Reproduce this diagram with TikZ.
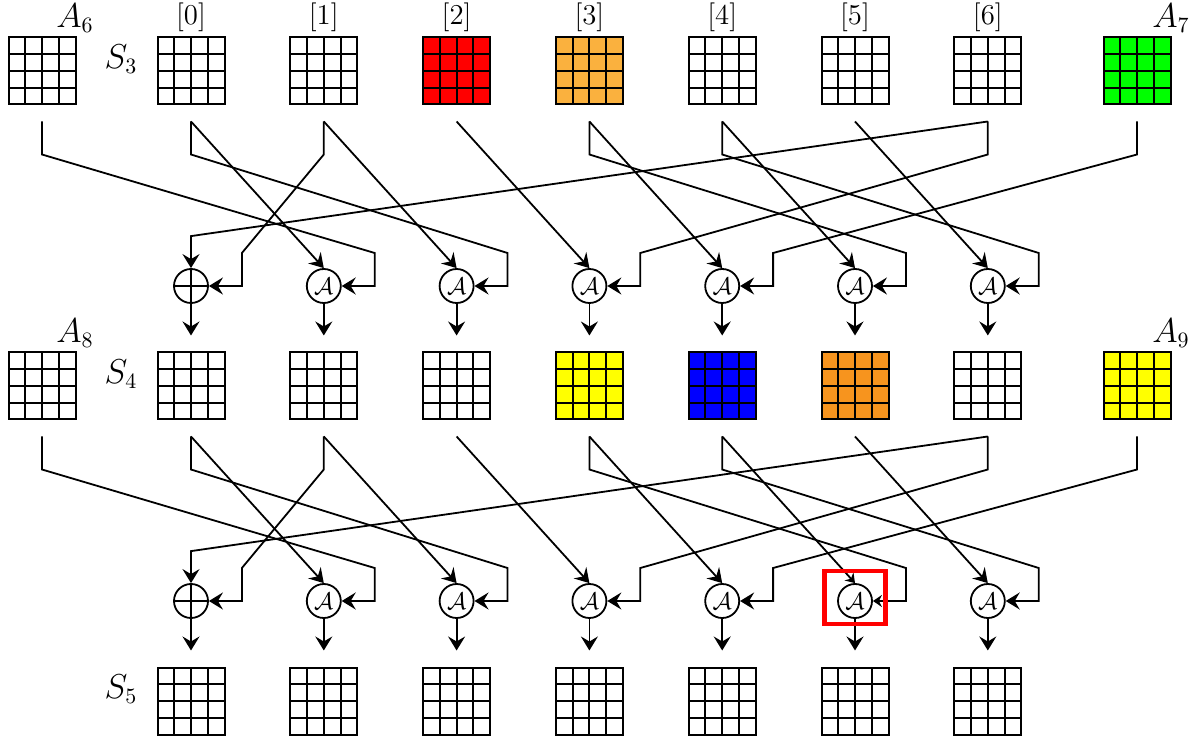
\documentclass[tikz,border=0pt]{standalone}
\usetikzlibrary{arrows.meta,calc}
\definecolor{stred}{RGB}{255,0,0}
\definecolor{storA}{RGB}{250,177,62}
\definecolor{storB}{RGB}{247,148,30}
\definecolor{stgreen}{RGB}{0,255,0}
\definecolor{styellow}{RGB}{255,255,0}
\definecolor{stblue}{RGB}{0,0,255}
\begin{document}
\begin{tikzpicture}[x=0.5pt,y=-0.5pt,
  state/.style={draw, line width=1pt, fill=white, minimum width=33.5pt, minimum height=33.5pt,
    inner sep=0pt, outer sep=0pt,
    path picture={
      \foreach \k in {1,2,3}{
        \draw[line width=1pt]
          ($(path picture bounding box.north west)!\k/4!(path picture bounding box.north east)$) --
          ($(path picture bounding box.south west)!\k/4!(path picture bounding box.south east)$)
          ($(path picture bounding box.north west)!\k/4!(path picture bounding box.south west)$) --
          ($(path picture bounding box.north east)!\k/4!(path picture bounding box.south east)$);
      }}},
  op/.style={circle, draw, line width=0.9pt, minimum size=17pt, inner sep=0pt,
    font=\fontsize{12}{14}\selectfont},
  arr/.style={line width=0.9pt, -{Stealth[length=7pt,width=8.5pt,inset=2.5pt]}},
  small tip/.style={-{Stealth[length=4.5pt,width=6pt,inset=1.5pt]}},
  hl1-5/.style={small tip},
  lab/.style={font=\fontsize{14.4}{17}\selectfont, inner sep=0pt},
  mlab/.style={font=\fontsize{16}{19}\selectfont, inner sep=0pt}]
\useasboundingbox (0,0) rectangle (1198,742);

% state rows S3, S4, S5
\foreach \i/\ca/\cb in {0/white/white, 1/white/white, 2/stred/white, 3/storA/styellow,
                        4/white/stblue, 5/white/storB, 6/white/white}{
  \node[state, fill=\ca] (g0-\i) at ({191+132.8*\i},71) {};
  \node[state, fill=\cb] (g1-\i) at ({191+132.8*\i},386) {};
  \node[state]           (g2-\i) at ({191+132.8*\i},701) {};
  \node[lab] (idx-\i) at ({191+132.8*\i},17) {[\i]};
}
% extra words A6..A9
\node[state]               (aL0) at (42,71) {};
\node[state, fill=stgreen] (aR0) at (1137,71) {};
\node[state]               (aL1) at (42,386) {};
\node[state, fill=styellow](aR1) at (1137,386) {};
\node[mlab] (lA6) at (75,18)   {$A_6$};
\node[mlab] (lA7) at (1171,18) {$A_7$};
\node[mlab] (lA8) at (75,333)  {$A_8$};
\node[mlab] (lA9) at (1171,333){$A_9$};
\node[mlab] (lS3) at (121,59)  {$S_3$};
\node[mlab] (lS4) at (121,374) {$S_4$};
\node[mlab] (lS5) at (121,689) {$S_5$};

\foreach \s/\n in {0/1,1/2}{
  % operation nodes
  \node[op] (c\s-0) at (191,{286+315*\s}) {};
  \draw[line width=0.9pt] (c\s-0.north) -- (c\s-0.south) (c\s-0.west) -- (c\s-0.east);
  \foreach \i in {1,...,6}{
    \node[op] (c\s-\i) at ({191+132.8*\i},{286+315*\s}) {$\mathcal{A}$};
  }
  % tap points below each state word
  \foreach \i in {0,...,6}{
    \coordinate (o\s-\i) at ($(g\s-\i.south)+(0,17)$);
  }
  \coordinate (o\s-aL) at ($(aL\s.south)+(0,17)$);
  \coordinate (o\s-aR) at ($(aR\s.south)+(0,17)$);
  % diagonal inputs
  \foreach \i [evaluate=\i as \p using int(\i-1)] in {1,...,6}{
    \draw[arr, hl\s-\i/.try] (o\s-\p) -- (c\s-\i.north);
  }
  \draw[arr] (o\s-6) -- ([yshift=16pt]c\s-0.north) -- (c\s-0.north);
  % side inputs
  \foreach \src/\dst in {aL/1, 0/2, 1/0, 6/3, aR/4, 3/5, 4/6}{
    \draw[arr, hl\s-\dst/.try] (o\s-\src) -- ++(0,33)
      -- ($(c\s-\dst.east)+(33,-33)$) -- ($(c\s-\dst.east)+(33,0)$) -- (c\s-\dst.east);
  }
  % outputs
  \foreach \i in {0,...,6}{
    \draw[arr] (c\s-\i.south) -- ([yshift=8.5pt]g\n-\i.north);
  }
}

% marked operation
\node[draw=stred, line width=2.4pt, minimum width=30.25pt, minimum height=26.5pt,
      inner sep=0pt] (mark) at (855,597.5) {};
\end{tikzpicture}
\end{document}
